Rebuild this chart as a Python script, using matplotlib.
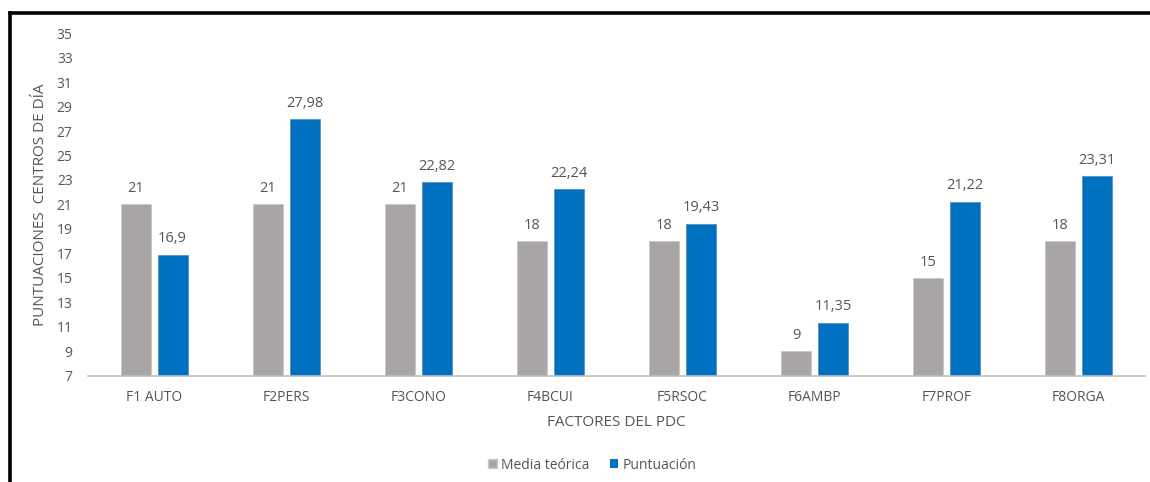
import numpy as np
import matplotlib.pyplot as plt
from matplotlib.lines import Line2D
from matplotlib.patches import Patch

plt.rcParams['font.family'] = ['Open Sans', 'DejaVu Sans']

factores = ['F1 AUTO', 'F2PERS', 'F3CONO', 'F4BCUI', 'F5RSOC', 'F6AMBP', 'F7PROF', 'F8ORGA']
media_teorica = [21, 21, 21, 18, 18, 9, 15, 18]
puntuacion = [16.9, 27.98, 22.82, 22.24, 19.43, 11.35, 21.22, 23.31]

gris = '#A9A5A5'
azul = '#0070C0'
txt = '#555555'

fig = plt.figure(figsize=(11.5, 4.82), dpi=100)
ax = fig.add_axes([0.0765, 0.22, 0.919, 0.7115])

x = np.arange(len(factores))
w = 0.227
off = 0.14
bottom = 7
b1 = ax.bar(x - off, np.array(media_teorica) - bottom, w, bottom=bottom,
            color=gris, edgecolor='#c8c8c8', lw=0.6)
b2 = ax.bar(x + off, np.array(puntuacion) - bottom, w, bottom=bottom,
            color=azul, edgecolor='#5a8fc0', lw=0.6)

def fmt(v):
    s = f'{v:g}'
    return s.replace('.', ',')

for xi, v in zip(x - off, media_teorica):
    ax.annotate(fmt(v), (xi, v), xytext=(0, 6), textcoords='offset points',
                ha='center', va='bottom', fontsize=10.5, color=txt, weight='medium')
for xi, v in zip(x + off, puntuacion):
    ax.annotate(fmt(v), (xi, v), xytext=(0, 6), textcoords='offset points',
                ha='center', va='bottom', fontsize=10.5, color=txt, weight='medium')

ax.set_xlim(-0.5, len(factores) - 0.5)
ax.set_ylim(7, 35)
ax.set_yticks(np.arange(7, 36, 2))
ax.set_xticks(x)
ax.set_xticklabels(factores)
ax.tick_params(axis='both', length=0, colors=txt, labelsize=10)
ax.tick_params(axis='x', pad=10)
ax.tick_params(axis='y', pad=11)
for lab in ax.get_xticklabels() + ax.get_yticklabels():
    lab.set_fontweight('medium')
for s in ['top', 'right', 'left']:
    ax.spines[s].set_visible(False)
ax.spines['bottom'].set_color('#BFBFBF')
ax.spines['bottom'].set_linewidth(1.2)

ax.set_xlabel('FACTORES DEL PDC', fontsize=11, color=txt, labelpad=7)
ax.set_ylabel('PUNTUACIONES  CENTROS DE DÍA', fontsize=11, color=txt, labelpad=6)

handles = [Patch(facecolor=gris, edgecolor='#c8c8c8', label='Media teórica'),
           Patch(facecolor=azul, label='Puntuación')]
fig.legend(handles=handles, loc='center', bbox_to_anchor=(0.515, 0.035), ncol=2,
           frameon=False, fontsize=10, labelcolor=txt, handlelength=0.6,
           handleheight=0.6, handletextpad=0.3, columnspacing=1.5)

# marco negro (solo arriba e izquierda visibles)
fig.add_artist(Line2D([0.0083, 1.0], [0.973, 0.973], transform=fig.transFigure,
                      color='black', lw=2.6))
fig.add_artist(Line2D([0.0083, 0.0083], [0.0, 0.973], transform=fig.transFigure,
                      color='black', lw=2.6))

fig.savefig('out.png', dpi=100)
